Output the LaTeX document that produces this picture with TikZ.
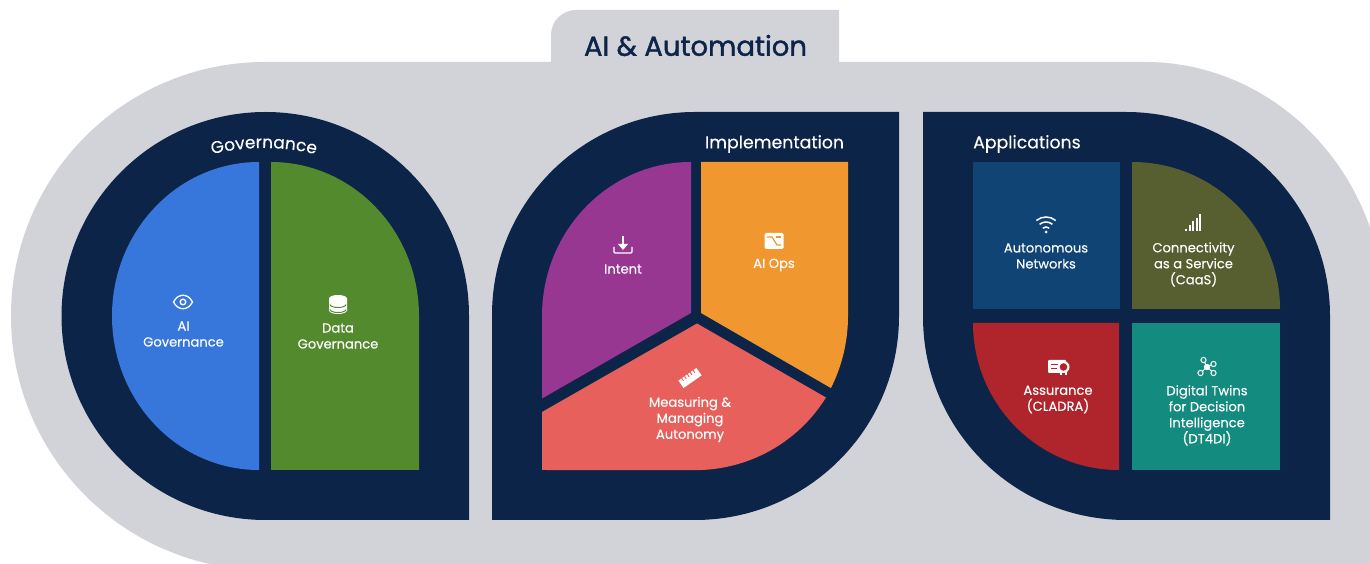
\documentclass[tikz,border=0pt]{standalone}
\usepackage{fontspec}
\setmainfont[FakeBold=0.25]{Poppins}
\newfontfamily\titlefont[FakeBold=1.4]{Poppins}
\usetikzlibrary{positioning, decorations.text}

\definecolor{backgray}{HTML}{D2D3D9}
\definecolor{navy}{HTML}{0D2449}
\definecolor{govblue}{HTML}{3776DB}
\definecolor{govgreen}{HTML}{538A2D}
\definecolor{intentpurple}{HTML}{983792}
\definecolor{opsorange}{HTML}{F19730}
\definecolor{autocoral}{HTML}{E7605C}
\definecolor{netblue}{HTML}{0F4474}
\definecolor{caasolive}{HTML}{575F30}
\definecolor{clared}{HTML}{B0252C}
\definecolor{twinteal}{HTML}{138B7F}

\begin{document}
\begin{tikzpicture}[
    x=1pt, y=1pt,
    label/.style = {text=white, align=center, inner sep=0pt, font=\fontsize{13.1}{16}\selectfont},
    heading/.style = {text=white, inner sep=0pt, font=\fontsize{17.3}{20}\selectfont},
    icon/.style = {white, line width=1.3pt}
]
\clip (0,0) rectangle (1370,564);

% background
\fill[backgray] (265,502) -- (551,502) -- (551,529) arc[start angle=180, end angle=90, radius=25pt]
    -- (839,554) -- (839,502) -- (1145,502) arc[start angle=90, end angle=0, x radius=240pt, y radius=254pt]
    -- (1385,-6) -- (265,-6) arc[start angle=270, end angle=90, radius=254pt] -- cycle;
\node[inner sep=0pt, text=navy, font=\fontsize{27.5}{30}\titlefont] (title) at (695.5,518.5) {AI \& Automation};

% panels
\fill[navy] (265.5,452) arc[start angle=90, end angle=0, radius=203.5pt] -- (469,44) -- (265.5,44)
    arc[start angle=270, end angle=90, radius=204pt] -- cycle;
\fill[navy] (899,452) -- (695,452) arc[start angle=90, end angle=180, radius=203pt] -- (492,44) -- (695,44)
    arc[start angle=270, end angle=360, radius=204pt] -- cycle;
\fill[navy] (923,452) -- (1126,452) arc[start angle=90, end angle=0, radius=204pt] -- (1330,44) -- (1126,44)
    arc[start angle=270, end angle=180, radius=203pt] -- cycle;

% governance
\fill[govblue] (259,402) arc[start angle=90, end angle=270, x radius=147pt, y radius=154pt] -- cycle;
\fill[govgreen] (271,402) arc[start angle=90, end angle=0, x radius=148pt, y radius=154pt] -- (419,94) -- (271,94) -- cycle;
\path[decorate, decoration={text along path, text align=center,
    text={|\color{white}\fontsize{17}{20}\selectfont|Governance}}]
    (190,403) arc[start angle=110, end angle=70, radius=216pt];

% implementation
\fill[intentpurple] (691,402) arc[start angle=90, end angle=180, x radius=149pt, y radius=154pt] -- (542,165.5) -- (691,251) -- cycle;
\fill[opsorange] (701,402) -- (848,402) -- (848,248) arc[start angle=0, end angle=-27.9, x radius=147pt, y radius=154pt] -- (701,251) -- cycle;
\fill[autocoral] (697,240.5) -- (826,166.5) arc[start angle=-31.9, end angle=-90, x radius=154pt, y radius=154pt] -- (542,94) -- (542,152) -- cycle;

% applications
\fill[netblue] (973,402) rectangle (1120,255);
\fill[caasolive] (1132,402) arc[start angle=90, end angle=0, x radius=148pt, y radius=147pt] -- (1132,255) -- cycle;
\fill[clared] (973,241) -- (1119,241) -- (1119,94) arc[start angle=270, end angle=180, x radius=146pt, y radius=147pt] -- cycle;
\fill[twinteal] (1132,241) rectangle (1280,94);

% headings and labels
\node[heading] (implementation) at (774.5,420) {Implementation};
\node[heading, anchor=west] (applications) at (973,420) {Applications};
\node[label] (aigov) at (183.5,230) {AI\\Governance};
\node[label] (datagov) at (338,228) {Data\\Governance};
\node[label] (intent) at (623,295) {Intent};
\node[label] (aiops) at (774,299) {AI Ops};
\node[label] (measuring) at (690,144.5) {Measuring \&\\Managing\\Autonomy};
\node[label] (autonet) at (1046,308) {Autonomous\\Networks};
\node[label] (caas) at (1193.5,299.5) {Connectivity\\as a Service\\(CaaS)};
\node[label] (assurance) at (1058,164.5) {Assurance\\(CLADRA)};
\node[label] (twins) at (1207,148.5) {Digital Twins\\for Decision\\Intelligence\\(DT4DI)};

% icons
\begin{scope}[shift={(183,262)}]
    \draw[icon] (-9.5,0) .. controls (-5,9) and (5,9) .. (9.5,0) .. controls (5,-9) and (-5,-9) .. cycle;
    \draw[icon] (0,0) circle (2.8pt);
\end{scope}
\begin{scope}[shift={(338,259.5)}]
    \fill[white] (-9,6) arc[start angle=180, end angle=0, x radius=9pt, y radius=3.5pt] -- (9,-6)
        arc[start angle=360, end angle=180, x radius=9pt, y radius=3.5pt] -- cycle;
    \draw[govgreen, line width=1pt] (-8,0) arc[start angle=180, end angle=360, x radius=8pt, y radius=3pt];
    \draw[govgreen, line width=1pt] (-8,-5) arc[start angle=180, end angle=360, x radius=8pt, y radius=3pt];
\end{scope}
\begin{scope}[shift={(623,319)}]
    \draw[icon, rounded corners=1pt] (-9,-2) -- (-9,-8) -- (9,-8) -- (9,-2);
    \draw[icon] (0,9) -- (0,0);
    \fill[white] (-5,1) -- (5,1) -- (0,-5) -- cycle;
\end{scope}
\begin{scope}[shift={(774,323)}]
    \fill[white, rounded corners=1.5pt] (-9.5,-8) rectangle (9.5,8);
    \draw[opsorange, line width=1.2pt] (-7,4) -- (-2,4) -- (3,-4) -- (7,-4);
    \draw[opsorange, line width=1.2pt] (2,4) -- (7,4);
\end{scope}
\begin{scope}[shift={(690,186)}, rotate=35]
    \fill[white] (-11,-4.5) rectangle (11,4.5);
    \foreach \tick in {-7,-3.5,0,3.5,7} {
        \draw[autocoral, line width=1pt] (\tick,4.5) -- (\tick,1.5);
    }
\end{scope}
\begin{scope}[shift={(1046,339)}]
    \fill[white] (0,-7) circle (1.5pt);
    \foreach \rad in {5,10,15} {
        \draw[icon, line width=1.5pt] (0,-7) ++(50:\rad pt) arc[start angle=50, end angle=130, radius=\rad pt];
    }
\end{scope}
\begin{scope}[shift={(1193,341.5)}]
    \fill[white] (-8,-8.5) rectangle ++(2,2);
    \fill[white] (-4.5,-8.5) rectangle ++(2,6);
    \fill[white] (-1,-8.5) rectangle ++(2,10);
    \fill[white] (2.5,-8.5) rectangle ++(2,13);
    \fill[white] (6,-8.5) rectangle ++(2,17);
\end{scope}
\begin{scope}[shift={(1058,197)}]
    \fill[white, rounded corners=1pt] (-10,-6) rectangle (8,7);
    \draw[clared, line width=1pt] (-7,2.5) -- (0,2.5);
    \draw[clared, line width=1pt] (-7,-1.5) -- (-1,-1.5);
    \fill[white] (2,-8) rectangle (9,-3);
    \fill[clared] (4,-8) rectangle (7,-5);
    \fill[white] (5.5,0) circle (6pt);
    \fill[clared] (5.5,0) circle (3.8pt);
\end{scope}
\begin{scope}[shift={(1207,197)}]
    \foreach \sat in {(-3.5,7), (6.5,3), (6.5,-6), (-6.5,-6)} {
        \draw[white, line width=1pt] (0,0) -- \sat;
        \draw[white, line width=1pt, fill=twinteal] \sat circle (2.6pt);
    }
    \fill[white] (0,0) circle (3.2pt);
\end{scope}

\end{tikzpicture}
\end{document}
